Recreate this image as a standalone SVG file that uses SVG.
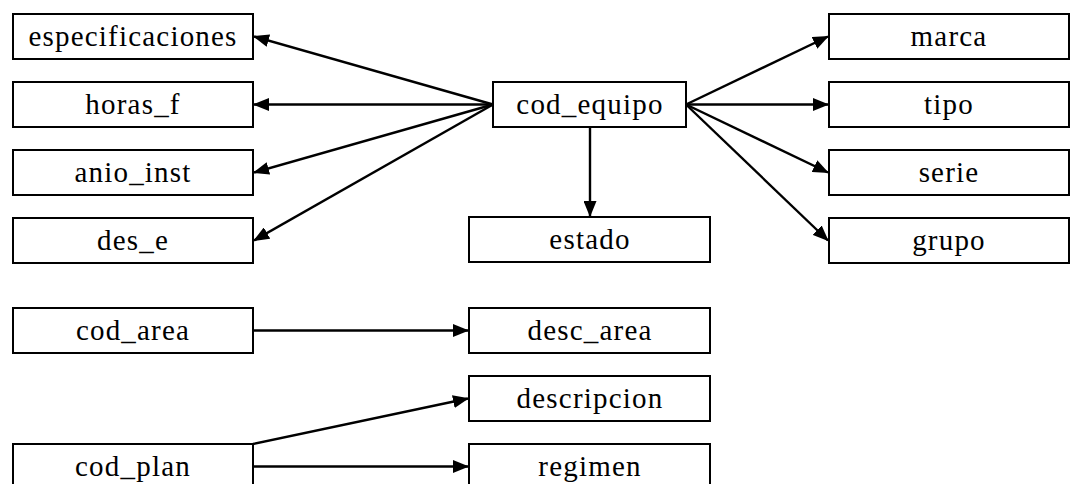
<svg xmlns="http://www.w3.org/2000/svg" width="1073" height="484" viewBox="0 0 1073 484">
  <style>
    .box { fill: #ffffff; stroke: #000000; stroke-width: 2; }
    .lbl { font-family: "Liberation Serif", "Times New Roman", serif; font-size: 29px; letter-spacing: 1.2px; fill: #000000; text-anchor: middle; }
    .edge { stroke: #000000; stroke-width: 2.4; fill: none; marker-end: url(#head); }
  </style>
  <defs>
    <marker id="head" viewBox="0 0 16 13" refX="15" refY="6.5" markerWidth="16" markerHeight="13" markerUnits="userSpaceOnUse" orient="auto">
      <path d="M0,0 L16,6.5 L0,13 Z" fill="#000000"/>
    </marker>
  </defs>
  <rect width="1073" height="484" fill="#ffffff"/>

  <g id="connectors">
    <line class="edge" x1="493" y1="104.5" x2="254" y2="36.5"/>
    <line class="edge" x1="493" y1="104.5" x2="254" y2="104.5"/>
    <line class="edge" x1="493" y1="104.5" x2="254" y2="172.5"/>
    <line class="edge" x1="493" y1="104.5" x2="254" y2="240.5"/>
    <line class="edge" x1="686" y1="104.5" x2="828" y2="36.5"/>
    <line class="edge" x1="686" y1="104.5" x2="828" y2="104.5"/>
    <line class="edge" x1="686" y1="104.5" x2="828" y2="172.5"/>
    <line class="edge" x1="686" y1="104.5" x2="828" y2="240.5"/>
    <line class="edge" x1="590" y1="127" x2="590" y2="216"/>
    <line class="edge" x1="253" y1="330.5" x2="468" y2="330.5"/>
    <line class="edge" x1="253" y1="444" x2="468" y2="398.5"/>
    <line class="edge" x1="253" y1="466.5" x2="468" y2="466.5"/>
  </g>

  <g id="especificaciones"><rect class="box" x="13" y="14" width="240" height="45"/><text class="lbl" x="133" y="46">especificaciones</text></g>
  <g id="horas_f"><rect class="box" x="13" y="82" width="240" height="45"/><text class="lbl" x="133" y="114">horas_f</text></g>
  <g id="anio_inst"><rect class="box" x="13" y="150" width="240" height="45"/><text class="lbl" x="133" y="182">anio_inst</text></g>
  <g id="des_e"><rect class="box" x="13" y="218" width="240" height="45"/><text class="lbl" x="133" y="250">des_e</text></g>

  <g id="cod_equipo"><rect class="box" x="493" y="82" width="193" height="45"/><text class="lbl" x="590" y="114">cod_equipo</text></g>
  <g id="estado"><rect class="box" x="469" y="217" width="241" height="45"/><text class="lbl" x="590" y="249">estado</text></g>

  <g id="marca"><rect class="box" x="829" y="14" width="240" height="45"/><text class="lbl" x="949" y="46">marca</text></g>
  <g id="tipo"><rect class="box" x="829" y="82" width="240" height="45"/><text class="lbl" x="949" y="114">tipo</text></g>
  <g id="serie"><rect class="box" x="829" y="150" width="240" height="45"/><text class="lbl" x="949" y="182">serie</text></g>
  <g id="grupo"><rect class="box" x="829" y="218" width="240" height="45"/><text class="lbl" x="949" y="250">grupo</text></g>

  <g id="cod_area"><rect class="box" x="13" y="308" width="240" height="45"/><text class="lbl" x="133" y="340">cod_area</text></g>
  <g id="desc_area"><rect class="box" x="469" y="308" width="241" height="45"/><text class="lbl" x="590" y="340">desc_area</text></g>
  <g id="descripcion"><rect class="box" x="469" y="376" width="241" height="45"/><text class="lbl" x="590" y="408">descripcion</text></g>
  <g id="cod_plan"><rect class="box" x="13" y="444" width="240" height="45"/><text class="lbl" x="133" y="476">cod_plan</text></g>
  <g id="regimen"><rect class="box" x="469" y="444" width="241" height="45"/><text class="lbl" x="590" y="476">regimen</text></g>
</svg>
